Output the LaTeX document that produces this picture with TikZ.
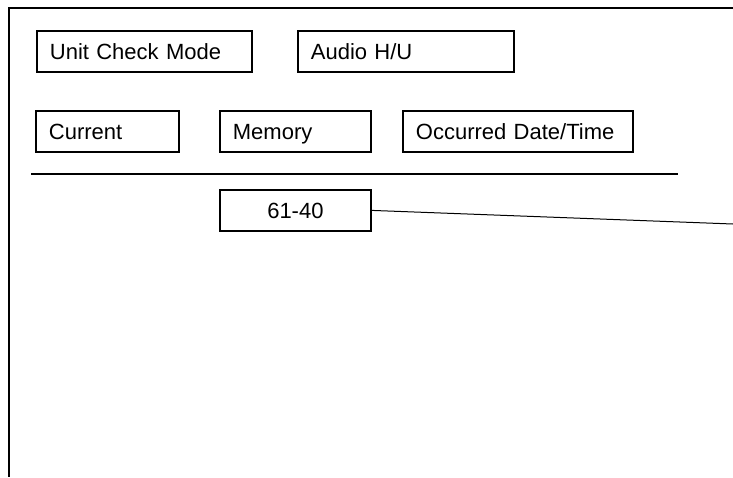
\documentclass[tikz,border=0pt]{standalone}
\usepackage{fontspec}
\setsansfont{Liberation Sans}
\usepackage{tikz}

\tikzset{
  field/.style={draw, line width=1.8pt, anchor=north west, inner xsep=13pt,
    inner ysep=10pt, text height=18.5pt, text depth=2.5pt,
    minimum height=41pt, text width=#1, align=left,
    font=\sffamily\fontsize{22}{26}\selectfont},
  code/.style={field=#1, align=center}
}

\begin{document}
\begin{tikzpicture}[x=1pt, y=-1pt]
	  \useasboundingbox (0,0) rectangle (733,477);

	  % frame
	  \draw [line width=2pt] (733,8) -- (9,8) -- (9,477);

	  % mode line
	  \node [field=189pt] (mode) at (36,30) {Unit Check Mode};
	  \node [field=190pt] (unit) at (297,30) {Audio H/U};

	  % tabs
	  \node [field=117pt] (current) at (35,110) {Current};
	  \node [field=125pt] (memory) at (219,110) {Memory};
	  \node [field=204pt] (occurred) at (402,110) {Occurred Date/Time};

	  \coordinate (sepL) at (31,174);
	  \coordinate (sepR) at (678,174);
	  \draw [line width=2pt] (sepL) -- (sepR);

	  % code
	  \node [code=125pt] (code) at (219,189) {61-40};
	  \coordinate (callout) at (733,224);
	  \draw [line width=1pt] (code.east) -- (callout);
\end{tikzpicture}
\end{document}
